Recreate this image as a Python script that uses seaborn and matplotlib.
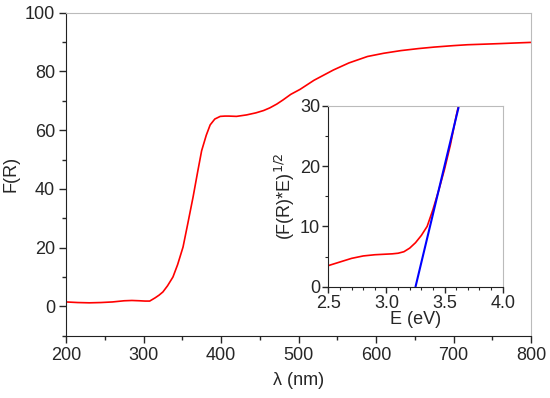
import numpy as np
import pandas as pd
import matplotlib.pyplot as plt
import seaborn as sns
from matplotlib.ticker import MultipleLocator

# main spectrum
wl = [200, 215, 230, 245, 260, 275, 285, 295, 302, 308, 315, 320, 325, 331, 338, 344, 351, 357,
      364, 370, 375, 381, 386, 392, 399, 405, 410, 420, 433, 445, 455, 463, 472, 480, 490, 502,
      520, 545, 565, 589, 610, 632, 655, 675, 700, 718, 740, 761, 780, 800]
fr = [1.5, 1.3, 1.2, 1.3, 1.5, 1.9, 2.0, 1.9, 1.8, 1.8, 2.9, 3.8, 4.9, 7.0, 10.0, 14.2, 20.2, 28.0,
      37.3, 46.0, 53.0, 58.3, 61.8, 63.8, 64.7, 64.8, 64.8, 64.7, 65.2, 65.9, 66.7, 67.6, 68.9, 70.3, 72.2, 73.9,
      77.0, 80.5, 82.9, 85.1, 86.2, 87.1, 87.8, 88.3, 88.8, 89.1, 89.3, 89.5, 89.7, 89.9]

# inset Tauc plot
e_ev = [2.5, 2.6, 2.7, 2.8, 2.9, 3.0, 3.05, 3.1, 3.15, 3.2, 3.25, 3.3, 3.35, 3.4, 3.45, 3.5, 3.55, 3.6, 3.62]
tauc = [3.5, 4.1, 4.7, 5.1, 5.3, 5.4, 5.45, 5.55, 5.8, 6.4, 7.3, 8.5, 10.0, 12.8, 16.0, 19.5, 23.5, 28.3, 30.0]
fit_e = [3.25, 3.62]
fit_y = [0.0, 29.7]

sns.set_style("ticks")
plt.rcParams['font.family'] = ['Liberation Sans', 'DejaVu Sans']

fig = plt.figure(figsize=(5.5, 3.98), dpi=100)
ax = fig.add_axes([0.12, 0.1565, 0.8455, 0.8115])

df = pd.DataFrame({'wl': wl, 'fr': fr})
sns.lineplot(data=df, x='wl', y='fr', color='red', linewidth=1.2, ax=ax)
ax.set_xlim(200, 800)
ax.set_ylim(-10, 100)
ax.xaxis.set_major_locator(MultipleLocator(100))
ax.xaxis.set_minor_locator(MultipleLocator(50))
ax.yaxis.set_major_locator(MultipleLocator(20))
ax.yaxis.set_minor_locator(MultipleLocator(10))
ax.tick_params(which='major', length=5, width=1, labelsize=13, direction='out', pad=3)
ax.tick_params(which='minor', length=3, width=1, direction='out')
ax.set_xlabel('λ (nm)', fontsize=13, labelpad=6)
ax.set_ylabel('F(R)', fontsize=13, labelpad=4)
for s in ['left', 'bottom']:
    ax.spines[s].set_color('#222222')
for s in ['top', 'right']:
    ax.spines[s].set_color('#bbbbbb')

# inset
ins = fig.add_axes([0.597, 0.2796, 0.317, 0.4548])
dfi = pd.DataFrame({'e': e_ev, 't': tauc})
sns.lineplot(data=dfi, x='e', y='t', color='red', linewidth=1.2, ax=ins)
sns.lineplot(x=fit_e, y=fit_y, color='blue', linewidth=1.5, ax=ins)
ins.set_xlim(2.5, 4.0)
ins.set_ylim(0, 30)
ins.xaxis.set_major_locator(MultipleLocator(0.5))
ins.xaxis.set_minor_locator(MultipleLocator(0.1))
ins.yaxis.set_major_locator(MultipleLocator(10))
ins.yaxis.set_minor_locator(MultipleLocator(5))
ins.tick_params(which='major', length=4, width=1, labelsize=13, direction='out', pad=2)
ins.tick_params(which='minor', length=2, width=0.8, direction='out')
ins.set_xlabel('E (eV)', fontsize=13, labelpad=-1)
ins.set_ylabel('(F(R)*E)$^{1/2}$', fontsize=13, labelpad=2)
for s in ['left', 'bottom']:
    ins.spines[s].set_color('#222222')
for s in ['top', 'right']:
    ins.spines[s].set_color('#bbbbbb')

fig.savefig('out.png', dpi=100)
